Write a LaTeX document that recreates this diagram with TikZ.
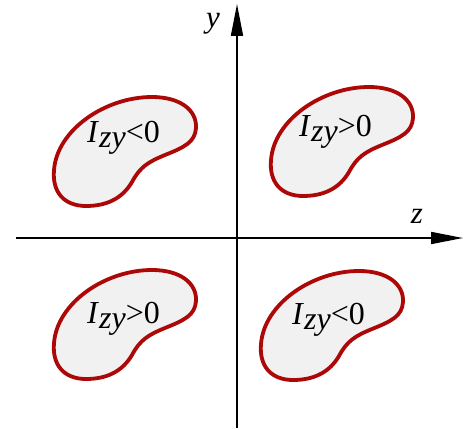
\documentclass[tikz,border=0pt]{standalone}
\usepackage{fontspec}
\setmainfont{Liberation Serif}
\usetikzlibrary{arrows.meta}
\definecolor{blobred}{RGB}{172,8,8}
\definecolor{blobfill}{RGB}{241,241,241}
\tikzset{
  axisline/.style={line width=1.7pt,-{Triangle[length=32pt,width=12pt]}},
  blob/.style={draw=blobred,fill=blobfill,line width=3.8pt},
  lbl/.style={font=\fontsize{31}{34}\selectfont\itshape,inner sep=0pt,anchor=base},
  moment/.style={font=\fontsize{32}{36}\selectfont,inner sep=0pt,anchor=base west}
}
\newcommand{\Izy}[1]{\textit{I}\raisebox{-5pt}{\textit{zy}}#10}
\begin{document}
\begin{tikzpicture}[x=1pt,y=-1pt]
\useasboundingbox (0,0) rectangle (465,430);
% blobs
\foreach \dx/\dy in {0/0,217/-10,0/173,207/174}{
  \begin{scope}[shift={(\dx,\dy)}]
  \draw[blob] (152,97) .. controls (180,97) and (197,110) .. (196,128)
    .. controls (195,142) and (185,147) .. (165,155)
    .. controls (148,162) and (140,167) .. (132,182)
    .. controls (122,199) and (106,206) .. (86,206)
    .. controls (64,206) and (52,192) .. (54,170)
    .. controls (57,130) and (105,97) .. (152,97) -- cycle;
  \end{scope}
}
\node[moment] (tl) at (87,143) {\Izy{<}};
\node[moment] (tr) at (299,137) {\Izy{>}};
\node[moment] (bl) at (87,323) {\Izy{>}};
\node[moment] (br) at (292,324) {\Izy{<}};
% axes
\coordinate (zs) at (16,238);
\coordinate (ze) at (463,238);
\coordinate (ys) at (237,428);
\coordinate (ye) at (237,4);
\draw[axisline] (zs) -- (ze);
\draw[axisline] (ys) -- (ye);
\node[lbl] (ylab) at (213,28) {y};
\node[lbl] (zlab) at (417,223) {z};
\end{tikzpicture}
\end{document}
